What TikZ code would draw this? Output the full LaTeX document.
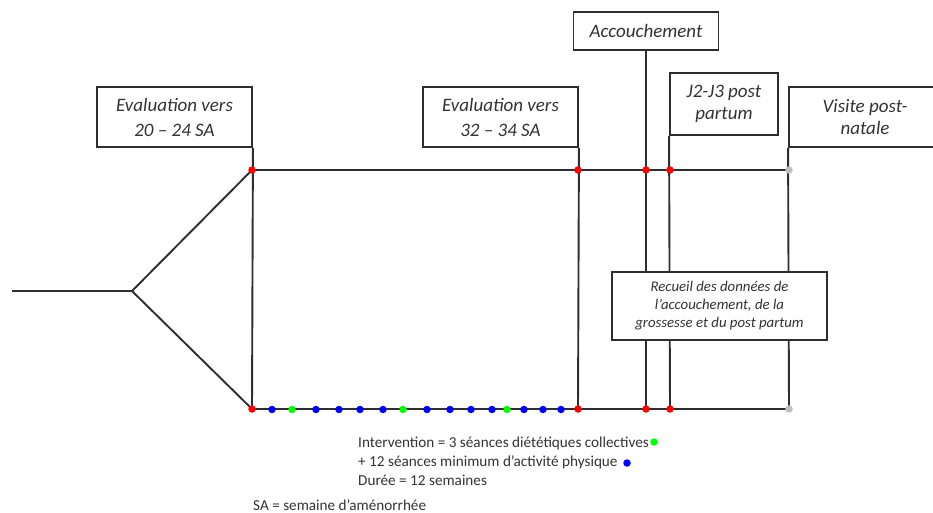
\documentclass[tikz,border=0pt]{standalone}
\usepackage{fontspec}
\setmainfont{Carlito}
\begin{document}
\begin{tikzpicture}[x=1pt,y=-1pt,
  ln/.style={line width=1.9pt,draw=black!82},
  box/.style={draw=black!82,line width=1.9pt,fill=white,align=center,inner sep=0pt,font=\fontsize{19}{25}\selectfont\itshape,text=black!80},
  dot/.style={circle,inner sep=0pt,minimum size=7.5pt,fill=#1},
  legend/.style={anchor=west,inner sep=0pt,font=\fontsize{15.2}{18}\selectfont,text=black!80}]
\useasboundingbox (0,0) rectangle (933,513);
\clip (0,0) rectangle (933,513);
% boxes
\node[box,minimum width=155pt,minimum height=60pt] (e1) at (174.5,117) {Evaluation vers\\20 -- 24 SA};
\node[box,minimum width=155pt,minimum height=60pt] (e2) at (500.5,117) {Evaluation vers\\32 -- 34 SA};
\node[box,minimum width=145pt,minimum height=38pt] (acc) at (646,31) {Accouchement};
\node[box,minimum width=108pt,minimum height=62pt,font=\fontsize{19}{22}\selectfont\itshape] (j2) at (724,104) {J2-J3 post\\partum};
\node[box,minimum width=152pt,minimum height=60pt,font=\fontsize{19}{22}\selectfont\itshape] (vis) at (865,117) {Visite post-\\natale};
% structure
\coordinate (L) at (12,291);
\coordinate (F) at (132,291);
\coordinate (T0) at (252,170);
\coordinate (B0) at (252,409);
\coordinate (T1) at (578,170);
\coordinate (B1) at (578,409);
\coordinate (T2) at (646,170);
\coordinate (B2) at (646,409);
\coordinate (T3) at (670,170);
\coordinate (B3) at (670,409);
\coordinate (TE) at (789,170);
\coordinate (BE) at (789,409);
\draw[ln] (L) -- (F) -- (T0);
\draw[ln] (F) -- (B0);
\draw[ln] (T0) -- (TE);
\draw[ln] (B0) -- (BE);
\draw[ln] (e1.south east) -- (B0);
\draw[ln] (e2.south east) -- (B1);
\draw[ln] (acc.south) -- (B2);
\draw[ln] (j2.south west) -- (B3);
\draw[ln] (vis.south west) -- (BE);
% data box
\node[box,minimum width=215pt,minimum height=68pt,font=\fontsize{14.8}{18}\selectfont\itshape] (rec) at (719.5,306) {Recueil des donn\'ees de\\l'accouchement, de la\\grossesse et du post partum};
% red and gray dots
\foreach \p in {T0,B0,T1,B1,T2,B2,T3,B3} \node[dot=red] at (\p) {};
\node[dot=black!25] (ge1) at (TE) {};
\node[dot=black!25] (ge2) at (BE) {};
% session dots
\foreach \x in {272,316,339,360,383,427,450,471,492,524,543,561} \node[dot=blue] at (\x,409.5) {};
\foreach \x in {292,403,507} \node[dot=green] at (\x,409.5) {};
% legend
\node[legend] (l1) at (358,443) {Intervention = 3 s\'eances di\'et\'etiques collectives};
\node[legend] (l2) at (358,462) {+ 12 s\'eances minimum d'activit\'e physique};
\node[legend] (l3) at (358,480) {Dur\'ee = 12 semaines};
\node[dot=green] (lg) at (654,442) {};
\node[dot=blue] (lb) at (627,463) {};
\node[legend] (sa) at (253,505) {SA = semaine d'am\'enorrh\'ee};
\end{tikzpicture}
\end{document}
